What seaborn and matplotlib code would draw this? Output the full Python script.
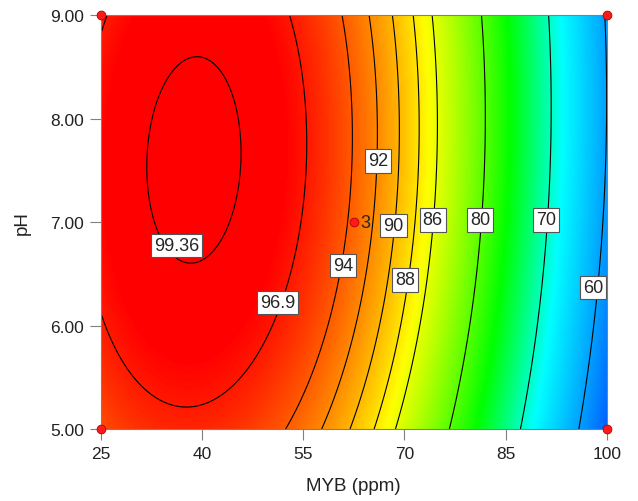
import numpy as np
import pandas as pd
import seaborn as sns
import matplotlib.pyplot as plt
from matplotlib.colors import LinearSegmentedColormap

# quadratic response surface
peak_myb = 38.8      # ppm at the optimum
peak_ph = 7.6
peak_value = 99.88
curv_myb = 0.0107    # loss per ppm^2
curv_ph = 0.525      # loss per pH^2
interaction = 0.010  # MYB x pH term

myb_range = [25, 100]
ph_range = [5, 9]
contour_levels = [60, 70, 80, 86, 88, 90, 92, 94, 96.9, 99.36]
contour_text = ['60', '70', '80', '86', '88', '90', '92', '94', '96.9', '99.36']

# design points (factorial corners + centre)
design_myb = [25, 25, 100, 100, 62.5]
design_ph = [5, 9, 5, 9, 7]
design_label = ['', '', '', '', '3']

x = np.linspace(myb_range[0], myb_range[1], 301)
y = np.linspace(ph_range[0], ph_range[1], 201)
X, Y = np.meshgrid(x, y)
dx = X - peak_myb
dy = Y - peak_ph
Z = peak_value - curv_myb * dx**2 - curv_ph * dy**2 + interaction * dx * dy

sns.set_style('ticks')
plt.rcParams['font.family'] = ['Liberation Sans', 'DejaVu Sans']

# blue -> cyan -> green -> yellow -> red, stops matched to the picture
cmap = LinearSegmentedColormap.from_list(
    'de', [(0.0, '#0050ff'), (0.33, '#00ffff'), (0.52, '#00ff00'),
           (0.755, '#ffff00'), (1.0, '#ff0000')])

fig = plt.figure(figsize=(6.38, 5.02), dpi=100)
ax = fig.add_axes([0.158, 0.1434, 0.793, 0.8246])

ax.imshow(Z, extent=[25, 100, 5, 9], origin='lower', aspect='auto',
          cmap=cmap, vmin=53, vmax=98, interpolation='bilinear')
cs = ax.contour(X, Y, Z, levels=contour_levels, colors='black', linewidths=0.8)

# label boxes, centres
label_pos = [(98.0, 6.37), (91.0, 7.02), (81.25, 7.02), (74.2, 7.02), (70.1, 6.44),
             (68.4, 6.97), (66.1, 7.59), (60.9, 6.58), (51.2, 6.22), (36.2, 6.77)]
for txt, (px, py) in zip(contour_text, label_pos):
    ax.text(px, py, txt, fontsize=13, ha='center', va='center', zorder=4,
            bbox=dict(facecolor='white', edgecolor='#555555', linewidth=0.8, pad=2.2))

pts = pd.DataFrame({'MYB': design_myb, 'pH': design_ph, 'lab': design_label})
sns.scatterplot(data=pts, x='MYB', y='pH', ax=ax, color='#ff1a1a', edgecolor='#b00000',
                s=40, linewidth=0.6, zorder=5, legend=False)
ax.collections[-1].set_clip_on(False)
for _, r in pts.iterrows():
    if r['lab']:
        ax.text(r['MYB'] + 1.0, r['pH'], r['lab'], fontsize=13, va='center', ha='left')

ax.set_xlim(25, 100)
ax.set_ylim(5, 9)
ax.set_xticks([25, 40, 55, 70, 85, 100])
ax.set_yticks([5, 6, 7, 8, 9])
ax.set_yticklabels([f'{v:.2f}' for v in [5, 6, 7, 8, 9]])
ax.tick_params(length=8, width=0.8, color='#808080', labelsize=12.5, labelcolor='#222222', pad=4)
for s in ax.spines.values():
    s.set_color('#808080')
    s.set_linewidth(0.8)
ax.set_xlabel('MYB (ppm)', fontsize=13.5, color='#222222', labelpad=12)
ax.set_ylabel('pH', fontsize=13.5, color='#222222', labelpad=14)

fig.savefig('out.png', dpi=100)
